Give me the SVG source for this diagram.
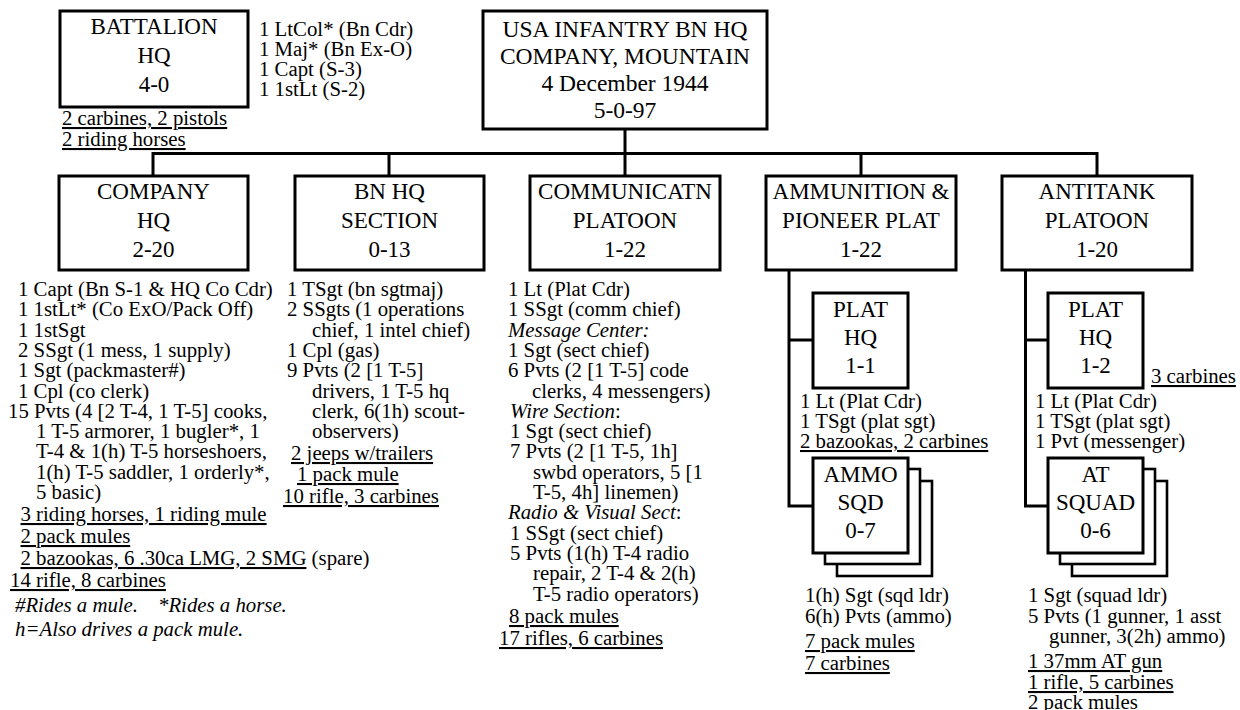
<svg xmlns="http://www.w3.org/2000/svg" width="1240" height="710" viewBox="0 0 1240 710">
<style>
text { font-family: "Liberation Serif", "Times New Roman", serif; fill: #000; }
.t { font-size: 20.8px; }
.h { font-size: 23px; text-anchor: middle; }
.ht { font-size: 23.5px; text-anchor: middle; }
.u { text-decoration: underline; }
.i { font-style: italic; }
.box { fill: #fff; stroke: #000; stroke-width: 3; }
.sbox { fill: #fff; stroke: #000; stroke-width: 2.6; }
.conn { fill: none; stroke: #000; stroke-width: 3; stroke-linejoin: miter; stroke-linecap: square; }
</style>
<rect width="1240" height="710" fill="#fff"/>

<g id="connectors">
  <path class="conn" d="M625,129 V153.5 M153,153.5 H1097 M153,153.5 V176 M389,153.5 V176 M625,153.5 V176 M861,153.5 V176 M1097,153.5 V176"/>
  <path class="conn" d="M789,270 V506 H813 M789,340 H813"/>
  <path class="conn" d="M1025.5,270 V506 H1048 M1025.5,340 H1048"/>
</g>

<g id="battalion-hq">
  <rect class="box" x="60" y="11" width="188" height="96"/>
  <text class="h" x="154" y="34">BATTALION</text>
  <text class="h" x="154" y="63">HQ</text>
  <text class="h" x="154" y="92">4-0</text>
  <text class="t" x="259" y="36">1 LtCol* (Bn Cdr)</text>
  <text class="t" x="259" y="56">1 Maj* (Bn Ex-O)</text>
  <text class="t" x="259" y="76">1 Capt (S-3)</text>
  <text class="t" x="259" y="96">1 1stLt (S-2)</text>
  <text class="t u" x="62" y="125">2 carbines, 2 pistols</text>
  <text class="t u" x="62" y="146">2 riding horses</text>
</g>

<g id="infantry-bn-hq">
  <rect class="box" x="483" y="11" width="284" height="118"/>
  <text class="ht" x="625" y="37">USA INFANTRY BN HQ</text>
  <text class="ht" x="625" y="64">COMPANY, MOUNTAIN</text>
  <text class="ht" x="625" y="91">4 December 1944</text>
  <text class="ht" x="625" y="118">5-0-97</text>
</g>

<g id="company-hq">
  <rect class="box" x="59" y="176" width="189" height="94"/>
  <text class="h" x="153.5" y="199">COMPANY</text>
  <text class="h" x="153.5" y="228">HQ</text>
  <text class="h" x="153.5" y="257">2-20</text>
  <text class="t" x="18" y="296">1 Capt (Bn S-1 &amp; HQ Co Cdr)</text>
  <text class="t" x="18" y="316.3">1 1stLt* (Co ExO/Pack Off)</text>
  <text class="t" x="18" y="336.6">1 1stSgt</text>
  <text class="t" x="18" y="356.9">2 SSgt (1 mess, 1 supply)</text>
  <text class="t" x="18" y="377.2">1 Sgt (packmaster#)</text>
  <text class="t" x="18" y="397.5">1 Cpl (co clerk)</text>
  <text class="t" x="8" y="417.8">15 Pvts (4 [2 T-4, 1 T-5] cooks,</text>
  <text class="t" x="36" y="438.1">1 T-5 armorer, 1 bugler*, 1</text>
  <text class="t" x="36" y="458.4">T-4 &amp; 1(h) T-5 horseshoers,</text>
  <text class="t" x="36" y="478.7">1(h) T-5 saddler, 1 orderly*,</text>
  <text class="t" x="36" y="499">5 basic)</text>
  <text class="t u" x="20.5" y="521">3 riding horses, 1 riding mule</text>
  <text class="t u" x="20.5" y="543">2 pack mules</text>
  <text class="t" x="20.5" y="565"><tspan class="u">2 bazookas, 6 .30ca LMG, 2 SMG</tspan> (spare)</text>
  <text class="t u" x="10" y="587">14 rifle, 8 carbines</text>
  <text class="t i" x="15" y="612">#Rides a mule.<tspan x="158">*Rides a horse.</tspan></text>
  <text class="t i" x="15" y="636">h=Also drives a pack mule.</text>
</g>

<g id="bn-hq-section">
  <rect class="box" x="295" y="176" width="189" height="94"/>
  <text class="h" x="389.5" y="199">BN HQ</text>
  <text class="h" x="389.5" y="228">SECTION</text>
  <text class="h" x="389.5" y="257">0-13</text>
  <text class="t" x="287" y="296">1 TSgt (bn sgtmaj)</text>
  <text class="t" x="287" y="316.3">2 SSgts (1 operations</text>
  <text class="t" x="312" y="336.6">chief, 1 intel chief)</text>
  <text class="t" x="287" y="356.9">1 Cpl (gas)</text>
  <text class="t" x="287" y="377.2">9 Pvts (2 [1 T-5]</text>
  <text class="t" x="312" y="397.5">drivers, 1 T-5 hq</text>
  <text class="t" x="312" y="417.8">clerk, 6(1h) scout-</text>
  <text class="t" x="312" y="438.1">observers)</text>
  <text class="t u" x="291" y="460">2 jeeps w/trailers</text>
  <text class="t u" x="297" y="481">1 pack mule</text>
  <text class="t u" x="283" y="503">10 rifle, 3 carbines</text>
</g>

<g id="communication-platoon">
  <rect class="box" x="530" y="176" width="190" height="94"/>
  <text class="h" x="625" y="199">COMMUNICATN</text>
  <text class="h" x="625" y="228">PLATOON</text>
  <text class="h" x="625" y="257">1-22</text>
  <text class="t" x="508" y="296">1 Lt (Plat Cdr)</text>
  <text class="t" x="508" y="316.3">1 SSgt (comm chief)</text>
  <text class="t i" x="508" y="336.6">Message Center:</text>
  <text class="t" x="508" y="356.9">1 Sgt (sect chief)</text>
  <text class="t" x="508" y="377.2">6 Pvts (2 [1 T-5] code</text>
  <text class="t" x="532" y="397.5">clerks, 4 messengers)</text>
  <text class="t" x="510" y="417.8"><tspan class="i">Wire Section</tspan>:</text>
  <text class="t" x="510" y="438.1">1 Sgt (sect chief)</text>
  <text class="t" x="510" y="458.4">7 Pvts (2 [1 T-5, 1h]</text>
  <text class="t" x="533" y="478.7">swbd operators, 5 [1</text>
  <text class="t" x="533" y="499">T-5, 4h] linemen)</text>
  <text class="t" x="508" y="519.3"><tspan class="i">Radio &amp; Visual Sect</tspan>:</text>
  <text class="t" x="510" y="539.6">1 SSgt (sect chief)</text>
  <text class="t" x="510" y="559.9">5 Pvts (1(h) T-4 radio</text>
  <text class="t" x="533" y="580.2">repair, 2 T-4 &amp; 2(h)</text>
  <text class="t" x="533" y="600.5">T-5 radio operators)</text>
  <text class="t u" x="509" y="623">8 pack mules</text>
  <text class="t u" x="499" y="645">17 rifles, 6 carbines</text>
</g>

<g id="ammunition-pioneer-platoon">
  <rect class="box" x="766" y="176" width="190" height="94"/>
  <text class="h" x="861" y="199">AMMUNITION &amp;</text>
  <text class="h" x="861" y="228">PIONEER PLAT</text>
  <text class="h" x="861" y="257">1-22</text>
</g>

<g id="ammo-plat-hq">
  <rect class="box" x="813" y="293" width="95" height="95"/>
  <text class="h" x="860.5" y="317">PLAT</text>
  <text class="h" x="860.5" y="345">HQ</text>
  <text class="h" x="860.5" y="373">1-1</text>
  <text class="t" x="800" y="408">1 Lt (Plat Cdr)</text>
  <text class="t" x="800" y="428">1 TSgt (plat sgt)</text>
  <text class="t u" x="800" y="448">2 bazookas, 2 carbines</text>
</g>

<g id="ammo-sqd">
  <rect class="sbox" x="837" y="481" width="95" height="95"/>
  <rect class="sbox" x="825" y="469" width="95" height="95"/>
  <rect class="box" x="813" y="458" width="95" height="95"/>
  <text class="h" x="860.5" y="482">AMMO</text>
  <text class="h" x="860.5" y="510">SQD</text>
  <text class="h" x="860.5" y="538">0-7</text>
  <text class="t" x="805" y="602">1(h) Sgt (sqd ldr)</text>
  <text class="t" x="805" y="623">6(h) Pvts (ammo)</text>
  <text class="t u" x="805" y="648">7 pack mules</text>
  <text class="t u" x="805" y="670">7 carbines</text>
</g>

<g id="antitank-platoon">
  <rect class="box" x="1002" y="176" width="190" height="94"/>
  <text class="h" x="1097" y="199">ANTITANK</text>
  <text class="h" x="1097" y="228">PLATOON</text>
  <text class="h" x="1097" y="257">1-20</text>
</g>

<g id="at-plat-hq">
  <rect class="box" x="1048" y="293" width="95" height="95"/>
  <text class="h" x="1095.5" y="317">PLAT</text>
  <text class="h" x="1095.5" y="345">HQ</text>
  <text class="h" x="1095.5" y="373">1-2</text>
  <text class="t u" x="1151" y="383">3 carbines</text>
  <text class="t" x="1035" y="408">1 Lt (Plat Cdr)</text>
  <text class="t" x="1035" y="428">1 TSgt (plat sgt)</text>
  <text class="t" x="1035" y="448">1 Pvt (messenger)</text>
</g>

<g id="at-squad">
  <rect class="sbox" x="1072" y="481" width="95" height="95"/>
  <rect class="sbox" x="1060" y="469" width="95" height="95"/>
  <rect class="box" x="1048" y="458" width="95" height="95"/>
  <text class="h" x="1095.5" y="482">AT</text>
  <text class="h" x="1095.5" y="510">SQUAD</text>
  <text class="h" x="1095.5" y="538">0-6</text>
  <text class="t" x="1028" y="602">1 Sgt (squad ldr)</text>
  <text class="t" x="1028" y="623">5 Pvts (1 gunner, 1 asst</text>
  <text class="t" x="1049" y="643">gunner, 3(2h) ammo)</text>
  <text class="t u" x="1028" y="668">1 37mm AT gun</text>
  <text class="t u" x="1028" y="689">1 rifle, 5 carbines</text>
  <text class="t" x="1028" y="709">2 pack mules</text>
</g>
</svg>
